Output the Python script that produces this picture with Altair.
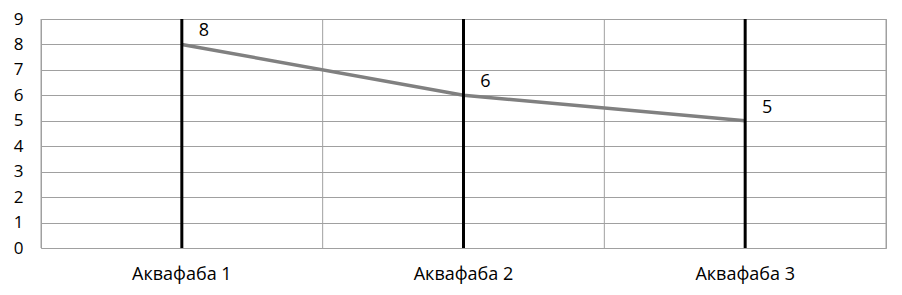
import altair as alt
import pandas as pd

categories = ["Аквафаба 1", "Аквафаба 2", "Аквафаба 3"]
values = [8, 6, 5]
y_ticks = list(range(0, 10))
boundaries = [0, 1, 2, 3]

df = pd.DataFrame({"cat": categories, "val": values})
df_b = pd.DataFrame({"b": boundaries})

FONT = "Open Sans"
x_axis = alt.Axis(title=None, labelAngle=0, domain=False, ticks=False,
                  grid=False, labelFontSize=18, labelFont=FONT,
                  labelColor="#000000", labelPadding=17)
x_enc = alt.X("cat:N", sort=categories,
              scale=alt.Scale(paddingInner=0, paddingOuter=0), axis=x_axis)
y_axis = alt.Axis(title=None, values=y_ticks, domain=False, ticks=False,
                  grid=True, gridColor="#a0a0a0", gridOpacity=1,
                  labelFontSize=17, labelFont=FONT, labelColor="#000000",
                  labelPadding=18, labelOverlap=False)
y_enc = alt.Y("val:Q", scale=alt.Scale(domain=[0, 9], nice=False), axis=y_axis)

grid_v = alt.Chart(df_b).mark_rule(color="#a0a0a0", strokeWidth=1).encode(
    x=alt.X("b:Q", scale=alt.Scale(domain=[0, 3], nice=False), axis=None),
)

main_base = alt.Chart(df).encode(x=x_enc, y=y_enc)

drop = alt.Chart(df).mark_rule(color="#000000", strokeWidth=3).encode(
    x=x_enc,
    y=alt.value(0),
    y2=alt.value(229),
)

line = main_base.mark_line(color="#808080", strokeWidth=3.5)

labels = main_base.mark_text(fontSize=18, font=FONT, color="#000000",
                             dx=22, dy=-13).encode(text=alt.Text("val:Q"))

main = alt.layer(line, drop, labels)

chart = alt.layer(grid_v, main).resolve_scale(x="independent").properties(
    width=845, height=229,
    padding={"left": 33, "top": 11, "right": 8, "bottom": 45},
    autosize="none",
).configure_view(stroke="#a0a0a0", strokeWidth=1)

chart.save("out.html", embed_options={"renderer": "svg", "actions": False})
